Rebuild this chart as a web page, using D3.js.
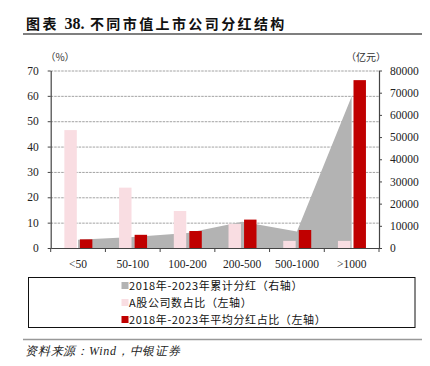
<!DOCTYPE html>
<html>
<head>
<meta charset="utf-8">
<script src="https://cdn.jsdelivr.net/npm/d3@7"></script>
<style>
  html, body { margin: 0; padding: 0; background: #fff; }
  svg { display: block; }
</style>
</head>
<body>
<svg id="chart" width="430" height="366"></svg>
<script>
// ---- data ----
const categories = ["<50", "50-100", "100-200", "200-500", "500-1000", ">1000"];
const cumDividend = [3700, 5000, 6800, 11800, 7400, 68300];      // 亿元, right axis
const shareOfCompanies = [46.5, 23.8, 14.6, 9.5, 2.8, 2.8];       // %, left axis
const shareOfDividend = [3.4, 5.2, 6.7, 11.2, 7.1, 66.2];         // %, left axis
const leftTicks = [0, 10, 20, 30, 40, 50, 60, 70];
const rightTicks = [0, 10000, 20000, 30000, 40000, 50000, 60000, 70000, 80000];
const legendLabels = ["2018年-2023年累计分红（右轴）", "A股公司数占比（左轴）", "2018年-2023年平均分红占比（左轴）"];

const C_GRAY = "#b3b3b3", C_PINK = "#f9dde2", C_RED = "#c00000", C_AXIS = "#444";
const serif = "'Liberation Serif','Times New Roman',serif";
const cjk = "'Noto Sans CJK SC','Noto Sans',sans-serif";

const svg = d3.select("#chart");
const L = 50.7, R = 379, T = 70.5, B = 248;

const x = d3.scaleBand().domain(categories).range([L, R]).padding(0);
const x1 = d3.scaleBand().domain(["pink", "red"]).range([-13.7, 14.3]).paddingInner(0.2);
const yL = d3.scaleLinear().domain([0, 70]).range([B, T]);
const yR = d3.scaleLinear().domain([0, 80000]).range([B, T]);
const cx = c => x(c) + x.bandwidth() / 2;

// title
const title = svg.append("text").attr("x", 26).attr("y", 29)
  .attr("font-family", cjk).attr("font-weight", "bold").attr("font-size", 14)
  .attr("letter-spacing", 2.4).attr("fill", "#111");
title.append("tspan").text("图表 ");
title.append("tspan").attr("font-family", serif).attr("font-size", 16).attr("letter-spacing", 0).text("38.");
title.append("tspan").text(" 不同市值上市公司分红结构");
svg.append("line").attr("x1", 23).attr("x2", 422).attr("y1", 34).attr("y2", 34)
  .attr("stroke", "#555").attr("stroke-width", 1.6);

// gridlines
svg.append("g").selectAll("line").data(leftTicks.filter(d => d > 0)).join("line")
  .attr("x1", L).attr("x2", R).attr("y1", d => yL(d) + 0.5).attr("y2", d => yL(d) + 0.5)
  .attr("stroke", "#8a8a8a").attr("stroke-width", 0.8).attr("stroke-dasharray", "2.5,1");

// gray area
const area = d3.area()
  .x((d, i) => cx(categories[i]))
  .y0(yR(0)).y1(d => yR(d));
svg.append("path").datum(cumDividend).attr("d", area).attr("fill", C_GRAY);

// bars
svg.append("g").selectAll("rect").data(shareOfCompanies).join("rect")
  .attr("x", (d, i) => cx(categories[i]) + x1("pink"))
  .attr("width", x1.bandwidth())
  .attr("y", d => yL(d)).attr("height", d => yL(0) - yL(d))
  .attr("fill", C_PINK);
svg.append("g").selectAll("rect").data(shareOfDividend).join("rect")
  .attr("x", (d, i) => cx(categories[i]) + x1("red"))
  .attr("width", x1.bandwidth())
  .attr("y", d => yL(d)).attr("height", d => yL(0) - yL(d))
  .attr("fill", C_RED);

// axes
const axL = svg.append("g").attr("transform", `translate(${L},0)`)
  .call(d3.axisLeft(yL).tickValues(leftTicks).tickSize(3).tickSizeOuter(0).tickPadding(9));
const axR = svg.append("g").attr("transform", `translate(${R},0)`)
  .call(d3.axisRight(yR).tickValues(rightTicks).tickFormat(d3.format("d"))
    .tickSize(3).tickSizeOuter(0).tickPadding(8));
const axB = svg.append("g").attr("transform", `translate(0,${B})`)
  .call(d3.axisBottom(x).tickSize(0).tickSizeOuter(0).tickPadding(12));
[axL, axR, axB].forEach(g => {
  g.selectAll("path.domain").attr("stroke", C_AXIS).attr("stroke-width", 1.2);
  g.selectAll(".tick line").attr("stroke", C_AXIS);
  g.selectAll("text").attr("font-family", serif).attr("font-size", 11.5).attr("fill", "#222");
});
// category boundary ticks
svg.append("g").selectAll("line").data(categories.concat(["end"])).join("line")
  .attr("x1", (d, i) => i < categories.length ? x(d) : R)
  .attr("x2", (d, i) => i < categories.length ? x(d) : R)
  .attr("y1", B).attr("y2", B + 4).attr("stroke", C_AXIS);

// units
svg.append("text").attr("x", 60).attr("y", 61).attr("text-anchor", "middle")
  .attr("font-family", cjk).attr("font-size", 10).attr("fill", "#333").text("（%）");
svg.append("text").attr("x", 366).attr("y", 61).attr("text-anchor", "middle")
  .attr("font-family", cjk).attr("font-size", 10).attr("fill", "#333").text("（亿元）");

// legend
svg.append("rect").attr("x", 28.5).attr("y", 277.5).attr("width", 386.5).attr("height", 50)
  .attr("fill", "none").attr("stroke", "#111").attr("stroke-width", 1);
const legColors = [C_GRAY, C_PINK, C_RED];
const legY = [285.5, 302.5, 319.5];
const lg = svg.append("g").selectAll("g").data(legendLabels).join("g")
  .attr("transform", (d, i) => `translate(121.5,${legY[i]})`);
lg.append("rect").attr("x", 0).attr("y", -3.5).attr("width", 7).attr("height", 7)
  .attr("fill", (d, i) => legColors[i]);
lg.append("text").attr("x", 7.5).attr("y", 4).attr("font-family", cjk).attr("font-size", 11)
  .attr("letter-spacing", 0.6).attr("fill", "#111").text(d => d);

// source
svg.append("line").attr("x1", 23).attr("x2", 422).attr("y1", 339.5).attr("y2", 339.5)
  .attr("stroke", "#999").attr("stroke-width", 1.5);
svg.append("text").attr("x", 25).attr("y", 355).attr("font-family", serif).attr("font-style", "italic")
  .attr("font-size", 12).attr("letter-spacing", 0.8).attr("fill", "#222").text("资料来源：Wind，中银证券");
</script>
</body>
</html>
